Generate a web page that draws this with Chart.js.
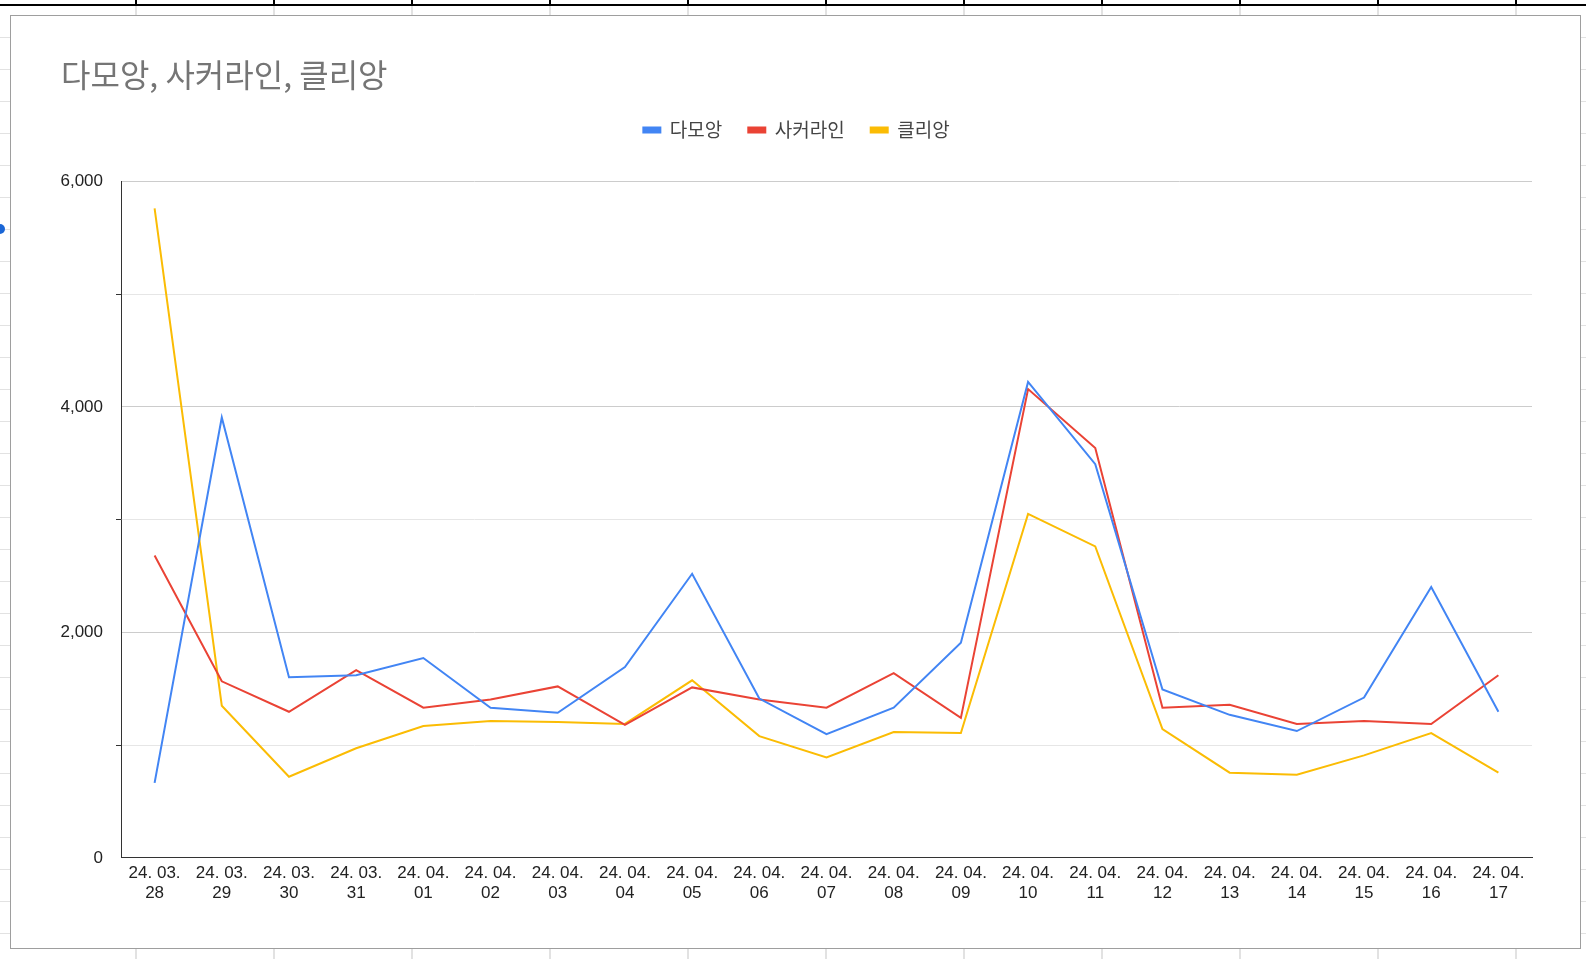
<!DOCTYPE html>
<html>
<head>
<meta charset="utf-8">
<script src="https://cdn.jsdelivr.net/npm/chart.js@4.4.1/dist/chart.umd.min.js"></script>
<style>
    html, body { margin: 0; padding: 0; }
    body {
        width: 1586px; height: 959px; overflow: hidden; position: relative;
        background-color: #fff;
        background-image:
            repeating-linear-gradient(to right, transparent 0, transparent 135px, #e2e2e2 135px, #e2e2e2 137px, transparent 137px, transparent 138px),
            repeating-linear-gradient(to bottom, #e2e2e2 0, #e2e2e2 1px, transparent 1px, transparent 32px);
        background-size: 138px 100%, 100% 32px;
        background-position: 0 0, 0 5px;
    }
    #topline { position: absolute; left: 0; top: 4px; width: 1586px; height: 2px; background: #000; }
    .colmark { position: absolute; top: 0; width: 2px; height: 5px; background: #000; }
    #panel {
        position: absolute; left: 10px; top: 15px; width: 1569px; height: 932px;
        background: #fff; border: 1px solid #9e9e9e;
    }
    #dot { position: absolute; left: -5px; top: 224px; width: 10px; height: 10px; border-radius: 50%; background: #1a66d6; }
    #wrap { position: absolute; left: 0; top: 0; width: 1586px; height: 959px; }
</style>
</head>
<body>
<div id="topline"></div>
<div id="panel"></div>
<div id="dot"></div>
<div id="wrap"><canvas id="lineChart" width="1586" height="959"></canvas></div>
<script>
// column marks above the sheet
for (var cx = 135; cx < 1586; cx += 138) {
    var m = document.createElement('div');
    m.className = 'colmark';
    m.style.left = cx + 'px';
    document.body.appendChild(m);
}

// Dates (x-axis)
var dateLabels = [
    ['24. 03.', '28'], ['24. 03.', '29'], ['24. 03.', '30'], ['24. 03.', '31'],
    ['24. 04.', '01'], ['24. 04.', '02'], ['24. 04.', '03'], ['24. 04.', '04'],
    ['24. 04.', '05'], ['24. 04.', '06'], ['24. 04.', '07'], ['24. 04.', '08'],
    ['24. 04.', '09'], ['24. 04.', '10'], ['24. 04.', '11'], ['24. 04.', '12'],
    ['24. 04.', '13'], ['24. 04.', '14'], ['24. 04.', '15'], ['24. 04.', '16'],
    ['24. 04.', '17']
];

// Series values
var damoang = [666, 3906, 1602, 1620, 1773, 1332, 1287, 1692, 2520, 1413, 1098,
    1332, 1908, 4221, 3492, 1494, 1269, 1125, 1422, 2403, 1296];
var soccerline = [2682, 1566, 1296, 1665, 1332, 1404, 1521, 1179, 1512, 1404, 1332,
    1638, 1242, 4158, 3636, 1332, 1359, 1188, 1215, 1188, 1620];
var clien = [5760, 1350, 720, 972, 1170, 1215, 1206, 1188, 1575, 1080, 891,
    1116, 1107, 3051, 2763, 1143, 756, 738, 909, 1107, 756];

var seriesNames = ['다모앙', '사커라인', '클리앙'];
var seriesColors = ['#4285f4', '#ea4335', '#fbbc04'];

// extra room under the legend
var legendSpacer = {
    id: 'legendSpacer',
    beforeInit: function (chart) {
        var fit = chart.legend.fit;
        chart.legend.fit = function () {
            fit.bind(chart.legend)();
            this.height += 32;
        };
    }
};

var ctx = document.getElementById('lineChart').getContext('2d');
var lineChart = new Chart(ctx, {
    type: 'line',
    data: {
        labels: dateLabels,
        datasets: [
            { label: seriesNames[0], data: damoang, borderColor: seriesColors[0], backgroundColor: seriesColors[0] },
            { label: seriesNames[1], data: soccerline, borderColor: seriesColors[1], backgroundColor: seriesColors[1] },
            { label: seriesNames[2], data: clien, borderColor: seriesColors[2], backgroundColor: seriesColors[2] }
        ]
    },
    options: {
        responsive: false,
        animation: false,
        layout: { padding: { top: 0, left: 61, right: 54, bottom: 50 } },
        elements: {
            line: { borderWidth: 2, tension: 0, fill: false },
            point: { radius: 0, hoverRadius: 0 }
        },
        plugins: {
            title: {
                display: true,
                text: '다모앙, 사커라인, 클리앙',
                align: 'start',
                color: '#757575',
                font: { family: '"Noto Sans CJK KR", Roboto, sans-serif', size: 32, weight: 'normal', lineHeight: 1.2 },
                padding: { top: 56, bottom: 0 }
            },
            legend: {
                display: true,
                position: 'top',
                labels: {
                    boxWidth: 17,
                    boxHeight: 5,
                    padding: 26,
                    color: '#444',
                    font: { family: '"Noto Sans CJK KR", Roboto, sans-serif', size: 19 }
                }
            },
            tooltip: { enabled: false }
        },
        scales: {
            x: {
                offset: true,
                grid: { display: false, drawTicks: false },
                border: { display: true, color: '#333', width: 1 },
                ticks: {
                    color: '#222',
                    padding: 6,
                    maxRotation: 0,
                    autoSkip: false,
                    font: { family: '"Liberation Sans", Arial, sans-serif', size: 17, lineHeight: 1.15 }
                }
            },
            y: {
                min: 0,
                max: 6000,
                afterFit: function (scale) { scale.width = 60; },
                border: { display: true, color: '#333', width: 1 },
                grid: {
                    color: function (c) { return c.tick && c.tick.value % 2000 === 0 ? '#cccccc' : '#e6e6e6'; },
                    tickColor: function (c) { return c.tick && c.tick.value % 2000 === 0 ? 'rgba(0,0,0,0)' : '#333'; },
                    tickLength: 5,
                    drawTicks: true
                },
                ticks: {
                    stepSize: 1000,
                    padding: 13,
                    color: '#222',
                    font: { family: '"Liberation Sans", Arial, sans-serif', size: 17 },
                    callback: function (value) {
                        return value % 2000 === 0 ? value.toLocaleString('en-US') : '';
                    }
                }
            }
        }
    },
    plugins: [legendSpacer]
});
</script>
</body>
</html>
